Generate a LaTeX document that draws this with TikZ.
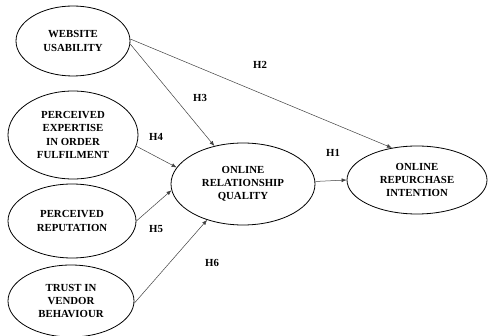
\documentclass[tikz,border=0pt]{standalone}
\usepackage{fontspec}
\setmainfont{Liberation Serif}
\usetikzlibrary{shapes.geometric,arrows.meta}
\begin{document}
\begin{tikzpicture}[x=1pt,y=-1pt,
  construct/.style={ellipse,draw=black,line width=0.8pt,inner sep=0pt,align=center,
    font=\fontsize{10.8}{13.3}\selectfont\bfseries},
  path/.style={draw=black!75,line width=0.5pt,-{Latex[length=5pt,width=4pt]}},
  hlabel/.style={font=\fontsize{10.8}{13.3}\selectfont\bfseries,inner sep=0pt}]
\useasboundingbox (0,0) rectangle (489,336);
\node[construct,minimum width=114pt,minimum height=70pt] (wu) at (73,41) {WEBSITE\\USABILITY};
\node[construct,minimum width=130pt,minimum height=88pt] (pe) at (73,135) {PERCEIVED\\EXPERTISE\\IN ORDER\\FULFILMENT};
\node[construct,minimum width=128pt,minimum height=74pt] (pr) at (72,221) {PERCEIVED\\REPUTATION};
\node[construct,minimum width=126pt,minimum height=72pt] (tv) at (71,301) {TRUST IN\\VENDOR\\BEHAVIOUR};
\node[construct,minimum width=144pt,minimum height=82pt] (orq) at (243,184) {ONLINE\\RELATIONSHIP\\QUALITY};
\node[construct,minimum width=140pt,minimum height=68pt] (ori) at (417,180) {ONLINE\\REPURCHASE\\INTENTION};
\draw[path] (orq.2) -- (ori.west);
\draw[path] (wu.2) -- (ori.128);
\draw[path] (wu.-3) -- (orq.127);
\draw[path] (pe.-10) -- (orq.166);
\draw[path] (pr.east) -- (orq.185);
\draw[path] (tv.-2) -- (orq.225);
\node[hlabel] (h1) at (333,153) {H1};
\node[hlabel] (h2) at (260,65) {H2};
\node[hlabel] (h3) at (200,98) {H3};
\node[hlabel] (h4) at (156,137) {H4};
\node[hlabel] (h5) at (156,229) {H5};
\node[hlabel] (h6) at (212,263) {H6};
\end{tikzpicture}
\end{document}
